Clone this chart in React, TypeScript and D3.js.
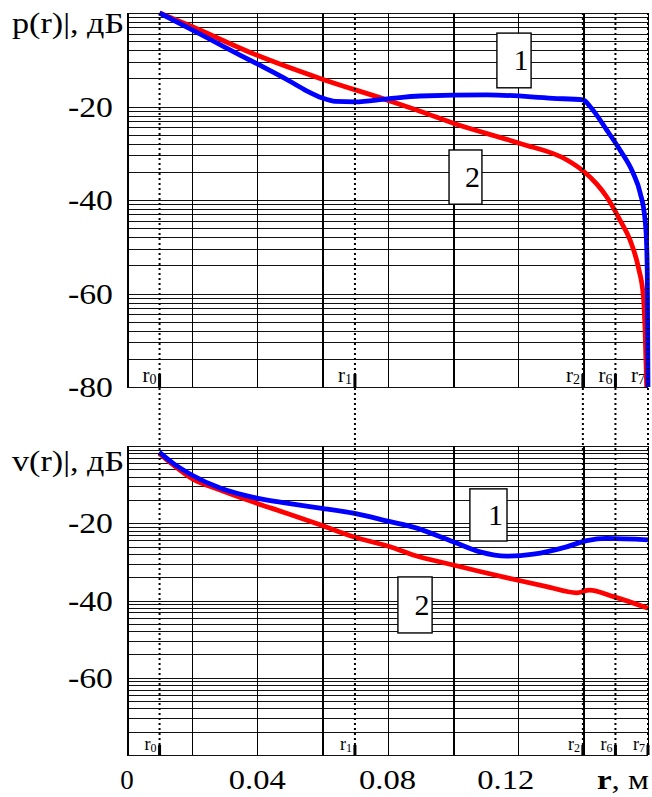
import React from 'react';
import * as d3 from 'd3';

// ---- data -------------------------------------------------------------
// distance grid (m) and tick labels
const xGridValues = [0, 0.02, 0.04, 0.06, 0.08, 0.1, 0.12, 0.14, 0.16];
const xTickValues = [0, 0.04, 0.08, 0.12];
const xTickLabels = ['0', '0.04', '0.08', '0.12'];

// dB bands (each band is split with a logarithmic ruling)
const bandBases = [-80, -60, -40, -20];
const logSteps = [1, 2, 3, 4, 5, 6, 7, 8, 9, 10];
const pTickValues = [-20, -40, -60, -80];
const vTickValues = [-20, -40, -60];

// characteristic radii
const rNames = ['0', '1', '2', '6', '7'];
const rValues = [0.01, 0.07, 0.14, 0.15, 0.16];

// |p(r)|, dB — curve 1
const p1X = [0.01, 0.02, 0.03, 0.04, 0.05, 0.055, 0.06, 0.064, 0.07, 0.08, 0.09, 0.1105, 0.1308, 0.1401, 0.1422, 0.1473, 0.1514, 0.1554, 0.1576, 0.1591, 0.1596, 0.1598, 0.16];
const p1Y = [0, -3.6, -7.3, -10.9, -14.6, -16.6, -18.2, -18.9, -19.0, -18.35, -17.75, -17.5, -18.25, -18.6, -20.0, -25.0, -29.3, -34.2, -38.5, -44.3, -50.0, -57.1, -80];
// |p(r)|, dB — curve 2
const p2X = [0.01, 0.0199, 0.0398, 0.0593, 0.0798, 0.09, 0.1002, 0.1207, 0.135, 0.1401, 0.1443, 0.1473, 0.1514, 0.1545, 0.157, 0.1586, 0.1591, 0.1596];
const p2Y = [0, -2.9, -9.0, -14.0, -18.6, -21.0, -23.6, -27.9, -31.4, -33.8, -36.6, -39.3, -44.3, -48.6, -54.3, -60.7, -67.8, -80];

// |v(r)|, dB — curve 1
const v1X = [0.0099, 0.0142, 0.0199, 0.0286, 0.0398, 0.049, 0.0593, 0.0695, 0.0808, 0.0879, 0.1002, 0.1084, 0.1166, 0.1248, 0.135, 0.1412, 0.1473, 0.16];
const v1Y = [-1.6, -4.5, -7.5, -10.9, -13.5, -14.8, -16.1, -17.4, -19.6, -21.0, -24.8, -27.4, -28.5, -28.0, -26.1, -24.5, -23.9, -24.3];
// |v(r)|, dB — curve 2
const v2X = [0.0099, 0.0142, 0.0199, 0.0286, 0.0398, 0.049, 0.0593, 0.0695, 0.0808, 0.0879, 0.1002, 0.1084, 0.1197, 0.1289, 0.1381, 0.142, 0.1494, 0.16];
const v2Y = [-1.9, -4.9, -8.4, -11.4, -14.8, -17.4, -20.4, -23.5, -26.1, -28.2, -30.8, -32.5, -34.7, -36.4, -38.0, -37.3, -39.0, -42.0];

// curve number boxes: [x0, x1] in m, [y0, y1] in dB
const pBoxText = ['1', '2'];
const pBoxX = [[0.1136, 0.1241], [0.0989, 0.109]];
const pBoxY = [[-4.3, -16.0], [-29.3, -40.9]];
const vBoxText = ['1', '2'];
const vBoxX = [[0.1053, 0.1167], [0.0832, 0.0937]];
const vBoxY = [[-11.1, -24.6], [-33.9, -48.4]];

// ---- layout -----------------------------------------------------------
const W = 652;
const H = 797;
const SERIF = "'Liberation Serif', 'Times New Roman', serif";

const x = d3.scaleLinear().domain([0, 0.16]).range([127, 648]);
const yP = d3.scaleLinear().domain([0, -80]).range([13, 387]);
const yV = d3.scaleLinear().domain([0, -80]).range([446, 755]);

const zip = (xs: number[], ys: number[]) => xs.map((v, i) => [v, ys[i]] as [number, number]);

type Scale = d3.ScaleLinear<number, number>;

function Panel({
  y, title, titleY, ticks, series, boxText, boxX, boxY, rFont, rSub, rTick,
}: {
  y: Scale; title: string; titleY: number; ticks: number[];
  series: { pts: [number, number][]; color: string }[];
  boxText: string[]; boxX: number[][]; boxY: number[][];
  rFont: number; rSub: number; rTick: number;
}) {
  const [y0, y1] = y.range();
  const gridY: number[] = [];
  bandBases.forEach((b) => logSteps.forEach((k) => gridY.push(b + 20 * Math.log10(k))));
  const line = d3.line<[number, number]>()
    .x((d) => x(d[0]))
    .y((d) => y(d[1]))
    .curve(d3.curveMonotoneX);
  return (
    <g>
      <rect x={x(0)} y={y0} width={x(0.16) - x(0)} height={y1 - y0} fill="#fff" />
      {gridY.map((v, i) => (
        <line key={'h' + i} x1={x(0)} x2={x(0.16)} y1={Math.round(y(v)) + 0.5} y2={Math.round(y(v)) + 0.5}
          stroke="#111" strokeWidth={1} shapeRendering="crispEdges" />
      ))}
      {xGridValues.map((v, i) => (
        <line key={'v' + i} x1={Math.round(x(v)) + 0.5} x2={Math.round(x(v)) + 0.5} y1={y0} y2={y1}
          stroke="#000" strokeWidth={i === 0 || i === 3 || i === 5 || i === 7 ? 2 : 1.3} shapeRendering="crispEdges" />
      ))}
      {rValues.map((v, i) => (
        <g key={'r' + i}>
          <rect x={x(v) - 1.5} y={y1 - rTick} width={3} height={rTick} fill="#000" />
          <text x={x(v) - 3} y={y1 - 5} textAnchor="end" fontFamily={SERIF} fontSize={rFont} fill="#000">
            <tspan>r</tspan>
            <tspan fontSize={rSub} dy={2}>{rNames[i]}</tspan>
          </text>
        </g>
      ))}
      {series.map((s, i) => (
        <path key={'s' + i} d={line(s.pts) ?? ''} fill="none" stroke={s.color} strokeWidth={4.8}
          strokeLinejoin="round" strokeLinecap="butt" />
      ))}
      {boxText.map((t, i) => {
        const bx0 = x(boxX[i][0]);
        const bx1 = x(boxX[i][1]);
        const by0 = y(boxY[i][0]);
        const by1 = y(boxY[i][1]);
        return (
          <g key={'b' + i}>
            <rect x={bx0} y={by0} width={bx1 - bx0} height={by1 - by0} fill="#fff" stroke="#000" strokeWidth={1.4} />
            <text x={(bx0 + bx1) / 2 + 7} y={(by0 + by1) / 2 + 10} textAnchor="middle"
              fontFamily={SERIF} fontSize={30} fill="#000">{t}</text>
          </g>
        );
      })}
      <text x={12} y={titleY} fontFamily={SERIF} fontSize={30} textLength={112}
        lengthAdjust="spacingAndGlyphs" fill="#000">{title}</text>
      {ticks.map((v) => (
        <text key={'t' + v} x={113} y={y(v) + 10} textAnchor="end" fontFamily={SERIF} fontSize={29}
          textLength={45} lengthAdjust="spacingAndGlyphs" fill="#000">{String(v)}</text>
      ))}
    </g>
  );
}

export default function App() {
  return (
    <svg width={W} height={H} viewBox={`0 0 ${W} ${H}`}
      style={{ position: 'absolute', left: 0, top: 0, background: '#fff' }}>
      <rect width={W} height={H} fill="#fff" />
      <Panel y={yP} title="p(r)|, дБ" titleY={33} ticks={pTickValues}
        series={[{ pts: zip(p2X, p2Y), color: '#ff0000' }, { pts: zip(p1X, p1Y), color: '#0000ff' }]}
        boxText={pBoxText} boxX={pBoxX} boxY={pBoxY} rFont={21} rSub={14} rTick={13} />
      <Panel y={yV} title="v(r)|, дБ" titleY={471} ticks={vTickValues}
        series={[{ pts: zip(v2X, v2Y), color: '#ff0000' }, { pts: zip(v1X, v1Y), color: '#0000ff' }]}
        boxText={vBoxText} boxX={vBoxX} boxY={vBoxY} rFont={18} rSub={12} rTick={10} />
      {rValues.map((v, i) => (
        <line key={'d' + i} x1={x(v)} x2={x(v)} y1={yP(0)} y2={yV(-80)} stroke="#000"
          strokeWidth={2} strokeDasharray="2 3" />
      ))}
      {xTickValues.map((v, i) => (
        <text key={'x' + i} x={x(v) + (i === 3 ? -12 : 0)} y={789} textAnchor="middle" fontFamily={SERIF}
          fontSize={27} textLength={i === 0 ? undefined : 57}
          lengthAdjust="spacingAndGlyphs" fill="#000">{xTickLabels[i]}</text>
      ))}
      <text x={597} y={789} fontFamily={SERIF} fontSize={27} textLength={52}
        lengthAdjust="spacingAndGlyphs" fill="#000">
        <tspan fontWeight="bold">r</tspan>
        <tspan>, м</tspan>
      </text>
    </svg>
  );
}
